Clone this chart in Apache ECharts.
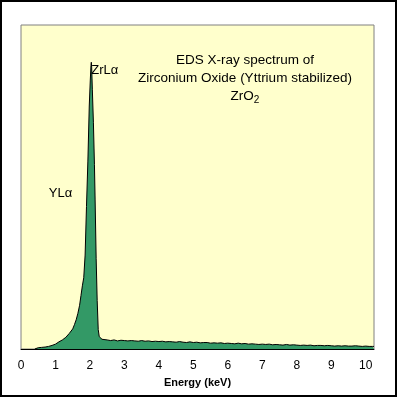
<!DOCTYPE html>
<html>
<head>
<meta charset="utf-8">
<script src="https://cdn.jsdelivr.net/npm/echarts@6/dist/echarts.min.js"></script>
<style>
  html, body { margin: 0; padding: 0; background: #fff; }
  #chart { width: 397px; height: 397px; }
</style>
</head>
<body>
<div id="chart"></div>
<script>
// energy (keV) and counts (% of full scale)
var energy = [
  0.40, 0.45, 0.50, 0.60, 0.70, 0.80, 0.90, 1.00, 1.10, 1.20,
  1.30, 1.40, 1.50, 1.55, 1.60, 1.65, 1.70, 1.74, 1.78, 1.82,
  1.86, 1.90, 1.94, 1.98, 2.01, 2.03, 2.04, 2.05, 2.07, 2.10,
  2.13, 2.15, 2.18, 2.21, 2.24, 2.27, 2.30, 2.35,
  2.4, 2.5, 2.6, 2.7, 2.8, 2.9, 3.0, 3.1, 3.2, 3.3,
  3.4, 3.5, 3.6, 3.7, 3.8, 3.9, 4.0, 4.1, 4.2, 4.3,
  4.4, 4.5, 4.6, 4.7, 4.8, 4.9, 5.0, 5.1, 5.2, 5.3,
  5.4, 5.5, 5.6, 5.7, 5.8, 5.9, 6.0, 6.1, 6.2, 6.3,
  6.4, 6.5, 6.6, 6.7, 6.8, 6.9, 7.0, 7.1, 7.2, 7.3,
  7.4, 7.5, 7.6, 7.7, 7.8, 7.9, 8.0, 8.1, 8.2, 8.3,
  8.4, 8.5, 8.6, 8.7, 8.8, 8.9, 9.0, 9.1, 9.2, 9.3,
  9.4, 9.5, 9.6, 9.7, 9.8, 9.9, 10.0, 10.1, 10.2, 10.24
];
var counts = [
  0, 0.3, 0.4, 0.5, 0.6, 0.8, 1.1, 1.5, 2.2, 2.8,
  3.6, 4.8, 6.2, 7.5, 9.0, 11.0, 13.5, 16.5, 19.5, 22,
  29, 44, 58, 75, 83, 87.5, 88.5, 87, 80, 70,
  57, 46, 28, 15, 6, 3.8, 3.2, 3.0,
  2.9, 2.8, 2.6, 2.8, 2.5, 2.7, 2.6, 2.5, 2.6, 2.5,
  2.4, 2.6, 2.4, 2.5, 2.3, 2.4, 2.3, 2.4, 2.2, 2.3,
  2.2, 2.1, 2.3, 2.1, 2.0, 2.2, 2.0, 2.1, 1.9, 2.0,
  2.0, 1.8, 1.9, 1.8, 1.9, 1.7, 1.8, 1.7, 1.6, 1.8,
  1.6, 1.7, 1.5, 1.6, 1.5, 1.4, 1.5, 1.4, 1.5, 1.3,
  1.4, 1.3, 1.2, 1.4, 1.2, 1.3, 1.2, 1.1, 1.2, 1.1,
  1.2, 1.0, 1.1, 1.1, 1.0, 1.1, 1.0, 0.9, 1.0, 0.9,
  1.0, 0.9, 0.9, 1.0, 0.9, 0.8, 0.9, 0.8, 0.8, 0.8
];
var titleLines = ['EDS X-ray spectrum of', 'Zirconium Oxide (Yttrium stabilized)', 'ZrO{sub|2}'];

var chart = echarts.init(document.getElementById('chart'));
var font = '"Liberation Sans", Arial, sans-serif';

chart.setOption({
  animation: false,
  backgroundColor: '#fff',
  title: {
    text: titleLines.join('\n'),
    left: 240,
    top: 46,
    textAlign: 'center',
    textStyle: {
      fontFamily: font, fontSize: 13.5, fontWeight: 'normal', color: '#000', lineHeight: 18,
      rich: { sub: { fontFamily: font, fontSize: 10, color: '#000', verticalAlign: 'bottom', padding: [6, 0, 0, 0] } }
    }
  },
  grid: {
    left: 21, top: 25, right: 23, bottom: 48,
    show: true, backgroundColor: '#FFFFCC', borderColor: '#808080', borderWidth: 1
  },
  xAxis: {
    type: 'value', min: 0, max: 10.24, interval: 1,
    name: 'Energy (keV)', nameLocation: 'middle', nameGap: 28,
    nameTextStyle: { fontFamily: font, fontSize: 11, fontWeight: 'bold', color: '#000' },
    axisLine: { lineStyle: { color: '#000', width: 1 } },
    axisTick: { show: false },
    splitLine: { show: false },
    axisLabel: {
      margin: 11, fontFamily: font, fontSize: 12, color: '#000',
      formatter: function (v) { return Number.isInteger(v) ? String(v) : ''; }
    }
  },
  yAxis: { type: 'value', min: 0, max: 100, show: false },
  series: [{
    type: 'line',
    data: energy.map(function (e, i) { return [e, counts[i]]; }),
    showSymbol: false,
    lineStyle: { color: '#000', width: 1 },
    areaStyle: { color: '#339966', opacity: 1 },
    markPoint: {
      symbol: 'circle', symbolSize: 0,
      label: { show: true, fontFamily: font, fontSize: 13, color: '#000' },
      data: [
        { coord: [2.04, 88.5], value: 'ZrLα', label: { formatter: 'ZrLα', position: 'right', offset: [-5, 8] } },
        { coord: [1.6, 48], value: 'YLα', label: { formatter: 'YLα', position: 'left', offset: [1, 0] } }
      ]
    }
  }],
  graphic: [{
    type: 'rect', shape: { x: 1, y: 1, width: 395, height: 395 },
    style: { fill: null, stroke: '#000', lineWidth: 2 }, z: 100
  }]
});
</script>
</body>
</html>
